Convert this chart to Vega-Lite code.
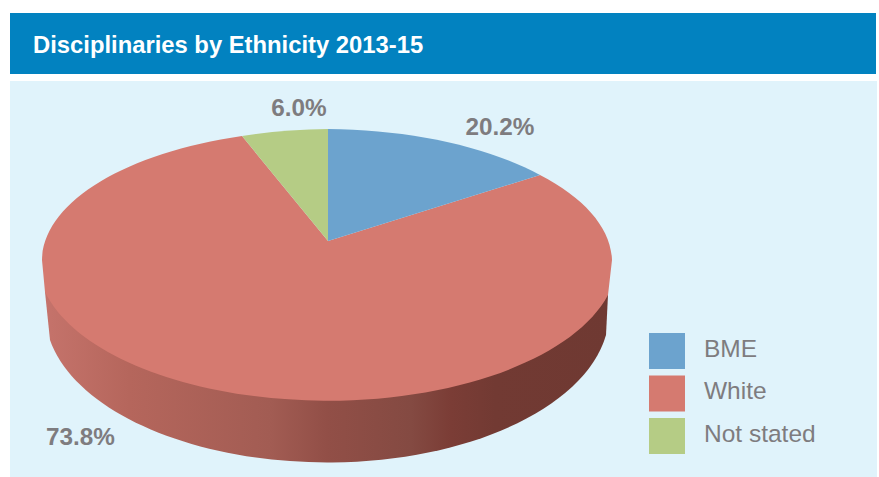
{
  "$schema": "https://vega.github.io/schema/vega-lite/v6.json",
  "width": 879,
  "height": 477,
  "padding": 0,
  "autosize": {"type": "fit", "contains": "padding"},
  "background": "#ffffff",
  "config": {"view": {"stroke": null}},
  "title": {
    "text": "Disciplinaries by Ethnicity 2013-15",
    "orient": "top",
    "anchor": "start",
    "frame": "group",
    "dx": 33,
    "dy": 24,
    "offset": -53,
    "baseline": "alphabetic",
    "font": "Liberation Sans",
    "fontSize": 23.8,
    "fontWeight": "bold",
    "color": "#ffffff"
  },
  "data": {
    "values": [
      {"ethnicity": "White", "share": 0.738},
      {"ethnicity": "BME", "share": 0.202},
      {"ethnicity": "Not stated", "share": 0.06}
    ]
  },
  "resolve": {"legend": {"color": "independent"}},
  "layer": [
    {
      "data": {"values": [{"panel": "header"}]},
      "mark": {"type": "rect", "fill": "#0282c0"},
      "encoding": {"x": {"value": 10}, "x2": {"value": 876}, "y": {"value": 13}, "y2": {"value": 74}}
    },
    {
      "data": {"values": [{"panel": "body"}]},
      "mark": {"type": "rect", "fill": "#e0f3fb"},
      "encoding": {"x": {"value": 10}, "x2": {"value": 877}, "y": {"value": 81}, "y2": {"value": 477}}
    },
    {
      "data": {"values": [{"part": "side"}]},
      "mark": {
        "type": "point",
        "filled": true,
        "opacity": 1,
        "fill": {
          "gradient": "linear",
          "x1": 0, "y1": 0, "x2": 1, "y2": 0,
          "stops": [
            {"offset": 0, "color": "#c5736b"},
            {"offset": 0.15, "color": "#b5665c"},
            {"offset": 0.4, "color": "#a25c53"},
            {"offset": 0.5, "color": "#924f47"},
            {"offset": 0.65, "color": "#844a42"},
            {"offset": 0.72, "color": "#7b3d36"},
            {"offset": 0.8, "color": "#723a33"},
            {"offset": 1, "color": "#6f3932"}
          ]
        }
      },
      "encoding": {
        "x": {"value": 328},
        "y": {"value": 241},
        "size": {"value": 4},
        "shape": {"value": "M-283,51 L-278,99 A282,150 0 0 0 278,94 L280,54 Z"}
      }
    },
    {
      "mark": {"type": "point", "filled": true, "opacity": 1, "strokeWidth": 0},
      "encoding": {
        "x": {"value": 328},
        "y": {"value": 241},
        "size": {"value": 4},
        "color": {
          "field": "ethnicity",
          "type": "nominal",
          "scale": {"domain": ["BME", "White", "Not stated"], "range": ["#6ca3ce", "#d57a70", "#b5cc85"]},
          "legend": null
        },
        "shape": {
          "field": "ethnicity",
          "type": "nominal",
          "legend": null,
          "scale": {
            "domain": ["BME", "White", "Not stated"],
            "range": [
              "M0,0 L0,-112 A285,131 0 0 1 212,-66 Z",
              "M0,0 L212,-66 A285,131 0 0 1 284,19 L280,54 A290,141 0 0 1 -283,51 L-286,19 A285,131 0 0 1 -86,-105 Z",
              "M0,0 L-86,-105 A285,131 0 0 1 0,-112 Z"
            ]
          }
        }
      }
    },
    {
      "mark": {"type": "rect", "opacity": 1, "strokeWidth": 0},
      "encoding": {
        "x": {"value": 649},
        "x2": {"value": 649},
        "y": {"value": 333},
        "y2": {"value": 333},
        "color": {
          "field": "ethnicity",
          "type": "nominal",
          "scale": {"domain": ["BME", "White", "Not stated"], "range": ["#6ca3ce", "#d57a70", "#b5cc85"]},
          "legend": {
            "title": null,
            "orient": "none",
            "legendX": 649,
            "legendY": 333,
            "symbolType": "square",
            "symbolSize": 1296,
            "symbolStrokeWidth": 0,
            "symbolOpacity": 1,
            "labelFont": "Liberation Sans",
            "labelFontSize": 24.5,
            "labelColor": "#7e7c7f",
            "labelOffset": 19,
            "rowPadding": 6.5,
            "encode": {"labels": {"update": {"dy": {"value": -1.5}}}}
          }
        }
      }
    },
    {
      "transform": [{"filter": "datum.ethnicity === 'BME'"}],
      "mark": {"type": "text", "font": "Liberation Sans", "fontSize": 24.3, "fontWeight": "bold", "color": "#7e7c7f", "align": "center", "baseline": "alphabetic"},
      "encoding": {"x": {"value": 500}, "y": {"value": 135}, "text": {"field": "share", "type": "quantitative", "format": ".1%"}}
    },
    {
      "transform": [{"filter": "datum.ethnicity === 'Not stated'"}],
      "mark": {"type": "text", "font": "Liberation Sans", "fontSize": 24.3, "fontWeight": "bold", "color": "#7e7c7f", "align": "center", "baseline": "alphabetic"},
      "encoding": {"x": {"value": 299}, "y": {"value": 116}, "text": {"field": "share", "type": "quantitative", "format": ".1%"}}
    },
    {
      "transform": [{"filter": "datum.ethnicity === 'White'"}],
      "mark": {"type": "text", "font": "Liberation Sans", "fontSize": 24.3, "fontWeight": "bold", "color": "#7e7c7f", "align": "center", "baseline": "alphabetic"},
      "encoding": {"x": {"value": 80.5}, "y": {"value": 445}, "text": {"field": "share", "type": "quantitative", "format": ".1%"}}
    }
  ]
}
